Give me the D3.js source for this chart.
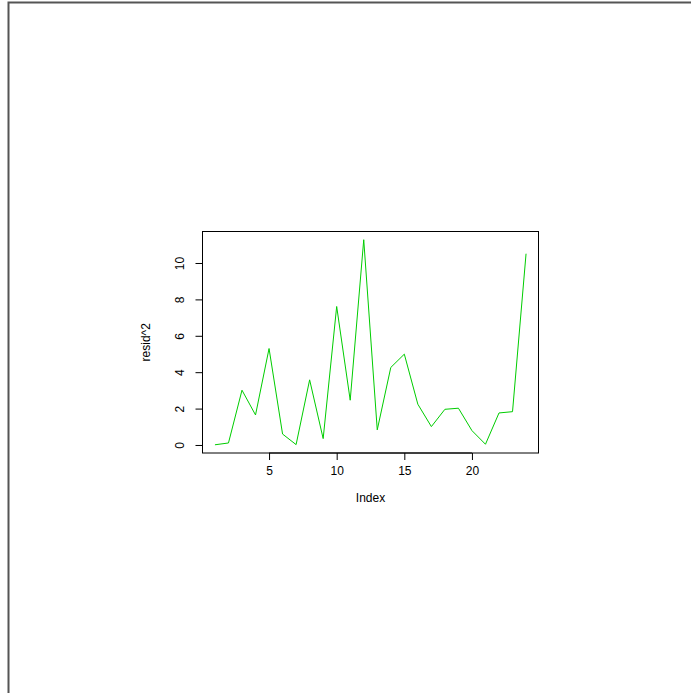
<!DOCTYPE html>
<html>
<head>
<meta charset="utf-8">
<script src="https://cdn.jsdelivr.net/npm/d3@7"></script>
<style>
  body { margin: 0; background: #fff; }
  svg { display: block; }
  text { font-family: "Liberation Sans", Arial, sans-serif; fill: #000; }
</style>
</head>
<body>
<svg id="chart" width="691" height="693"></svg>
<script>
// squared residuals by index
const residSq = [0.01, 0.11, 3.01, 1.65, 5.30, 0.60, 0.02, 3.58, 0.35, 7.61,
  2.46, 11.28, 0.83, 4.26, 4.99, 2.24, 1.01, 1.96, 2.02, 0.79,
  0.04, 1.76, 1.83, 10.51];
const xTicks = [5, 10, 15, 20];
const yTicks = [0, 2, 4, 6, 8, 10];

const svg = d3.select('#chart');
const width = 691, height = 693;
const fontSize = 12;

// outer frame (left + top edges)
svg.append('path')
  .attr('d', `M8.5,${height} L8.5,2.5 L${width},2.5`)
  .attr('fill', 'none')
  .attr('stroke', '#555')
  .attr('stroke-width', 2);

const plot = { left: 202.5, top: 231.5, right: 538.5, bottom: 453 };

const idx = residSq.map((d, i) => i + 1);
const pad = (a, b) => { const r = b - a; return [a - r * 0.04, b + r * 0.04]; };

const x = d3.scaleLinear()
  .domain(pad(1, residSq.length))
  .range([plot.left, plot.right]);
const y = d3.scaleLinear()
  .domain(pad(d3.min(residSq), d3.max(residSq)))
  .range([plot.bottom, plot.top]);

// data line
const line = d3.line()
  .x((d, i) => x(idx[i]))
  .y(d => y(d));

svg.append('path')
  .datum(residSq)
  .attr('fill', 'none')
  .attr('stroke', '#00cd00')
  .attr('stroke-width', 1)
  .attr('d', line);

// plot box
svg.append('rect')
  .attr('x', plot.left)
  .attr('y', plot.top)
  .attr('width', plot.right - plot.left)
  .attr('height', plot.bottom - plot.top)
  .attr('fill', 'none')
  .attr('stroke', '#000')
  .attr('stroke-width', 1);

// x axis
const xAxis = svg.append('g')
  .attr('transform', `translate(0,${plot.bottom})`)
  .call(d3.axisBottom(x).tickValues(xTicks).tickSize(7).tickPadding(6));
xAxis.select('.domain').remove();
xAxis.append('line')
  .attr('x1', x(xTicks[0])).attr('x2', x(xTicks[xTicks.length - 1]))
  .attr('stroke', '#000');
xAxis.selectAll('text')
  .attr('font-size', fontSize)
  .attr('fill', '#000')
  .style('font-family', '"Liberation Sans", Arial, sans-serif');

// y axis
const yAxis = svg.append('g')
  .attr('transform', `translate(${plot.left},0)`)
  .call(d3.axisLeft(y).tickValues(yTicks).tickSize(7).tickFormat(d3.format('d')));
yAxis.select('.domain').remove();
yAxis.append('line')
  .attr('y1', y(yTicks[0])).attr('y2', y(yTicks[yTicks.length - 1]))
  .attr('stroke', '#000');
yAxis.selectAll('text')
  .attr('font-size', fontSize)
  .attr('fill', '#000')
  .style('font-family', '"Liberation Sans", Arial, sans-serif')
  .attr('x', null).attr('dy', null)
  .attr('text-anchor', 'middle')
  .attr('transform', 'translate(-23.5,0) rotate(-90)')
  .attr('y', 4.5);

// axis titles
svg.append('text')
  .attr('x', (plot.left + plot.right) / 2)
  .attr('y', 502)
  .attr('text-anchor', 'middle')
  .attr('font-size', fontSize)
  .text('Index');

svg.append('text')
  .attr('transform', `translate(150,${(plot.top + plot.bottom) / 2}) rotate(-90)`)
  .attr('text-anchor', 'middle')
  .attr('font-size', fontSize)
  .text('resid^2');
</script>
</body>
</html>
